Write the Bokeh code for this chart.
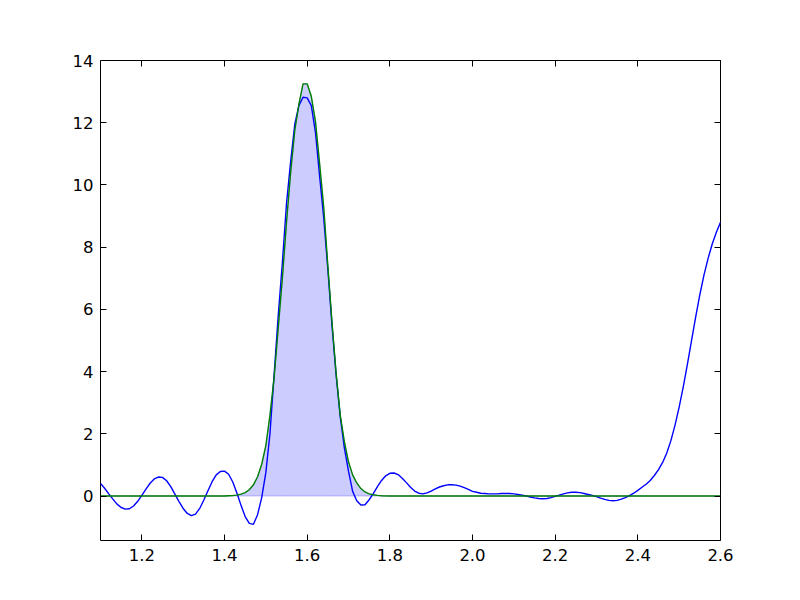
from bokeh.plotting import figure
from bokeh.models import Range1d, FixedTicker, LinearAxis, PrintfTickFormatter
from bokeh.embed import file_html
from bokeh.resources import INLINE

# Blue curve (reconstruction), sampled every 0.01
blue_x = [
    1.10, 1.11, 1.12, 1.13, 1.14, 1.15, 1.16, 1.17, 1.18, 1.19,
    1.20, 1.21, 1.22, 1.23, 1.24, 1.25, 1.26, 1.27, 1.28, 1.29,
    1.30, 1.31, 1.32, 1.33, 1.34, 1.35, 1.36, 1.37, 1.38, 1.39,
    1.40, 1.41, 1.42, 1.43, 1.44, 1.45, 1.46, 1.47, 1.48, 1.49,
    1.50, 1.51, 1.52, 1.53, 1.54, 1.55, 1.56, 1.57, 1.58, 1.59,
    1.60, 1.61, 1.62, 1.63, 1.64, 1.65, 1.66, 1.67, 1.68, 1.69,
    1.70, 1.71, 1.72, 1.73, 1.74, 1.75, 1.76, 1.77, 1.78, 1.79,
    1.80, 1.81, 1.82, 1.83, 1.84, 1.85, 1.86, 1.87, 1.88, 1.89,
    1.90, 1.91, 1.92, 1.93, 1.94, 1.95, 1.96, 1.97, 1.98, 1.99,
    2.00, 2.01, 2.02, 2.03, 2.04, 2.05, 2.06, 2.07, 2.08, 2.09,
    2.10, 2.11, 2.12, 2.13, 2.14, 2.15, 2.16, 2.17, 2.18, 2.19,
    2.20, 2.21, 2.22, 2.23, 2.24, 2.25, 2.26, 2.27, 2.28, 2.29,
    2.30, 2.31, 2.32, 2.33, 2.34, 2.35, 2.36, 2.37, 2.38, 2.39,
    2.40, 2.41, 2.42, 2.43, 2.44, 2.45, 2.46, 2.47, 2.48, 2.49,
    2.50, 2.51, 2.52, 2.53, 2.54, 2.55, 2.56, 2.57, 2.58, 2.59,
    2.60,
]
blue_y = [
    0.40, 0.25, 0.07, -0.10, -0.26, -0.37, -0.42, -0.41, -0.32, -0.17,
    0.02, 0.22, 0.41, 0.55, 0.61, 0.60, 0.49, 0.30, 0.06, -0.18,
    -0.40, -0.56, -0.63, -0.58, -0.40, -0.13, 0.17, 0.46, 0.68, 0.79,
    0.80, 0.70, 0.45, 0.10, -0.30, -0.66, -0.88, -0.91, -0.60, -0.05,
    0.75, 2.00, 3.90, 5.80, 7.50, 9.40, 10.75, 11.95, 12.55, 12.82,
    12.80, 12.55, 11.70, 10.30, 8.95, 7.30, 5.50, 3.90, 2.55, 1.55,
    0.80, 0.15, -0.15, -0.29, -0.28, -0.12, 0.08, 0.30, 0.50, 0.65,
    0.73, 0.74, 0.69, 0.57, 0.43, 0.28, 0.16, 0.09, 0.07, 0.10,
    0.16, 0.23, 0.29, 0.33, 0.36, 0.36, 0.35, 0.32, 0.27, 0.21,
    0.15, 0.12, 0.09, 0.08, 0.07, 0.07, 0.07, 0.08, 0.08, 0.08,
    0.07, 0.05, 0.03, 0.00, -0.03, -0.06, -0.08, -0.09, -0.08, -0.05,
    -0.01, 0.03, 0.07, 0.10, 0.12, 0.12, 0.11, 0.08, 0.05, 0.02,
    -0.02, -0.07, -0.11, -0.14, -0.15, -0.14, -0.10, -0.05, 0.01, 0.09,
    0.18, 0.28, 0.38, 0.50, 0.66, 0.85, 1.08, 1.38, 1.78, 2.28,
    2.86, 3.52, 4.24, 5.00, 5.76, 6.47, 7.10, 7.64, 8.10, 8.48,
    8.80,
]

# Green curve (model peak)
green_x = [
    1.10, 1.40, 1.41, 1.42, 1.43, 1.44, 1.45, 1.46, 1.47, 1.48, 1.49,
    1.50, 1.51, 1.52, 1.53, 1.54, 1.55, 1.56, 1.57, 1.58, 1.59,
    1.60, 1.61, 1.62, 1.63, 1.64, 1.65, 1.66, 1.67, 1.68, 1.69,
    1.70, 1.71, 1.72, 1.73, 1.74, 1.75, 1.76, 1.77, 1.78, 1.80, 2.60,
]
green_y = [
    0.0, 0.0, 0.01, 0.015, 0.03, 0.06, 0.11, 0.20, 0.36, 0.62, 1.02,
    1.62, 2.60, 3.80, 5.40, 7.00, 8.80, 10.40, 11.75, 12.60, 13.25,
    13.25, 12.85, 12.05, 10.70, 9.30, 7.40, 5.60, 3.95, 2.60, 1.75,
    1.10, 0.68, 0.42, 0.24, 0.13, 0.07, 0.04, 0.02, 0.01, 0.0, 0.0,
]

x_ticks = [1.2, 1.4, 1.6, 1.8, 2.0, 2.2, 2.4, 2.6]
y_ticks = [0, 2, 4, 6, 8, 10, 12, 14]
x_limits = (1.1, 2.6)
y_limits = (-1.43, 14.0)

FONT = "DejaVu Sans"
FS = "16.5px"

p = figure(
    width=784, height=584,
    frame_width=620, frame_height=480,
    min_border_left=100, min_border_right=64,
    min_border_top=60, min_border_bottom=44,
    x_range=Range1d(*x_limits), y_range=Range1d(*y_limits),
    output_backend="svg", toolbar_location=None,
    x_axis_type=None, y_axis_type=None,
)
p.grid.visible = False
p.outline_line_color = "black"
p.outline_line_width = 1
p.background_fill_color = "white"
p.border_fill_color = "white"


def style_axis(ax, labels):
    ax.axis_line_color = None
    ax.major_tick_in = 6
    ax.major_tick_out = 0
    ax.minor_tick_line_color = None
    ax.major_tick_line_color = "black"
    ax.major_tick_line_width = 1
    ax.major_label_text_font = FONT
    ax.major_label_text_font_size = FS
    ax.major_label_text_color = "black"
    if not labels:
        ax.major_label_text_font_size = "0px"
        ax.major_label_text_color = None


xb = LinearAxis(ticker=FixedTicker(ticks=x_ticks), formatter=PrintfTickFormatter(format="%.1f"))
style_axis(xb, True)
xb.major_label_standoff = 8
p.add_layout(xb, "below")
xt = LinearAxis(ticker=FixedTicker(ticks=x_ticks))
style_axis(xt, False)
p.add_layout(xt, "above")

yl = LinearAxis(ticker=FixedTicker(ticks=y_ticks), formatter=PrintfTickFormatter(format="%d"))
style_axis(yl, True)
yl.major_label_standoff = 7
p.add_layout(yl, "left")
yr = LinearAxis(ticker=FixedTicker(ticks=y_ticks))
style_axis(yr, False)
p.add_layout(yr, "right")

# filled area between 0 and the green curve
patch_x = green_x + green_x[::-1]
patch_y = green_y + [0.0 for _ in green_x]
p.patch(patch_x, patch_y, fill_color="#0000ff", fill_alpha=0.2,
        line_color="#0000ff", line_alpha=0.22, line_width=1)

p.line(blue_x, blue_y, line_color="#0000ff", line_width=1.4)
p.line(green_x, green_y, line_color="#008000", line_width=1.4)

open("out.html", "w").write(file_html(p, INLINE))
